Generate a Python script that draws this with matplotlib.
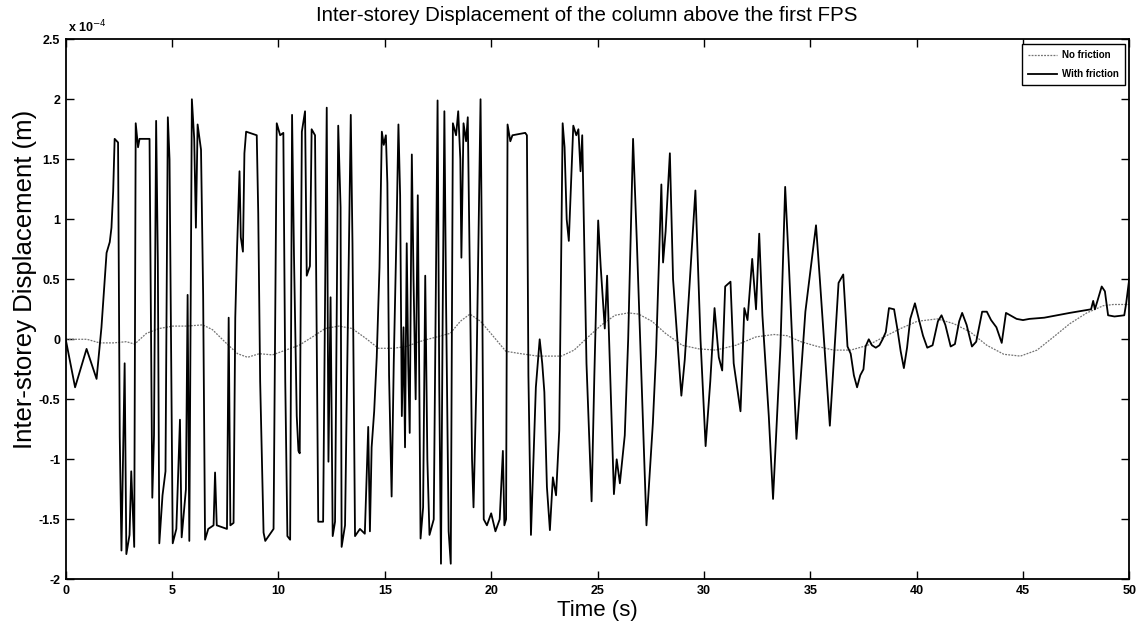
import matplotlib
matplotlib.use('Agg')
import matplotlib.pyplot as plt
import numpy as np
from matplotlib.ticker import FuncFormatter

# --------------------------------------------------------------
# Data (values in units of 1e-4 m)
# --------------------------------------------------------------
t_fric = [0.00, 0.44, 0.98, 1.45, 1.68, 1.92, 2.07, 2.15, 2.23, 2.30, 2.46, 2.54, 2.62, 2.77, 2.85,
          3.00, 3.08, 3.22, 3.29, 3.40, 3.47, 3.94, 4.07, 4.15, 4.25, 4.33, 4.40, 4.55, 4.69, 4.80,
          4.88, 5.03, 5.20, 5.37, 5.45, 5.65, 5.73, 5.81, 5.93, 6.04, 6.12, 6.20, 6.36, 6.46, 6.55,
          6.70, 6.95, 7.02, 7.10, 7.58, 7.66, 7.74, 7.89, 7.97, 8.05, 8.17, 8.23, 8.33, 8.40, 8.48,
          8.98, 9.05, 9.14, 9.30, 9.38, 9.77, 9.92, 10.08, 10.23, 10.32, 10.42, 10.55, 10.64, 10.73,
          10.86, 10.94, 11.00, 11.10, 11.25, 11.33, 11.48, 11.56, 11.72, 11.87, 12.10, 12.27, 12.35,
          12.45, 12.55, 12.66, 12.81, 12.92, 12.97, 13.13, 13.40, 13.48, 13.60, 13.83, 14.06, 14.22,
          14.30, 14.38, 14.50, 14.62, 14.75, 14.86, 14.95, 15.05, 15.12, 15.20, 15.32, 15.42, 15.55,
          15.64, 15.72, 15.80, 15.88, 15.95, 16.03, 16.10, 16.17, 16.27, 16.35, 16.45, 16.55, 16.68,
          16.80, 16.90, 17.00, 17.10, 17.30, 17.48, 17.56, 17.64, 17.72, 17.80, 17.88, 18.00, 18.10,
          18.20, 18.35, 18.45, 18.55, 18.60, 18.70, 18.82, 18.90, 19.00, 19.10, 19.17, 19.30, 19.50,
          19.58, 19.65, 19.80, 20.00, 20.20, 20.40, 20.55, 20.62, 20.70, 20.77, 20.90, 21.00, 21.60,
          21.68, 21.75, 21.87, 21.95, 22.10, 22.28, 22.40, 22.50, 22.62, 22.76, 22.90, 23.05, 23.20,
          23.36, 23.45, 23.55, 23.65, 23.86, 24.00, 24.10, 24.20, 24.28, 24.48, 24.72, 24.85, 25.03,
          25.15, 25.34, 25.45, 25.77, 25.90, 26.05, 26.28, 26.44, 26.67, 26.85, 27.30, 27.60, 27.75,
          28.00, 28.08, 28.20, 28.40, 28.55, 28.94, 29.10, 29.30, 29.60, 29.84, 30.08, 30.30, 30.50,
          30.70, 30.86, 31.00, 31.25, 31.40, 31.72, 31.90, 32.05, 32.27, 32.45, 32.60, 32.75, 33.05,
          33.25, 33.60, 33.82, 34.00, 34.35, 34.77, 35.27, 35.45, 35.92, 36.33, 36.55, 36.75, 36.90,
          37.05, 37.20, 37.35, 37.50, 37.60, 37.75, 37.90, 38.08, 38.25, 38.40, 38.55, 38.70, 38.94,
          39.10, 39.25, 39.40, 39.55, 39.70, 39.92, 40.10, 40.30, 40.50, 40.75, 41.00, 41.17, 41.35,
          41.60, 41.80, 42.00, 42.14, 42.35, 42.60, 42.80, 43.08, 43.30, 43.50, 43.75, 44.00, 44.20,
          44.40, 44.70, 45.00, 45.30, 46.00, 47.20, 48.20, 48.30, 48.38, 48.50, 48.70, 48.85, 49.00,
          49.30, 49.76, 49.85, 50.00]
y_fric = [0.00, -0.40, -0.08, -0.33, 0.10, 0.72, 0.81, 0.93, 1.23, 1.67, 1.64, -0.81, -1.76, -0.20, -1.79,
          -1.63, -1.10, -1.73, 1.80, 1.60, 1.67, 1.67, -1.32, -0.80, 1.82, 0.65, -1.70, -1.30, -1.10, 1.85,
          1.50, -1.70, -1.58, -0.67, -1.65, -1.25, 0.37, -1.68, 2.00, 1.67, 0.93, 1.79, 1.58, 0.37, -1.67,
          -1.58, -1.55, -1.11, -1.55, -1.58, 0.18, -1.55, -1.53, 0.18, 0.73, 1.40, 0.85, 0.73, 1.55, 1.73,
          1.70, 1.05, -0.35, -1.61, -1.68, -1.58, 1.80, 1.70, 1.72, -0.35, -1.64, -1.67, 1.87, 0.70,
          -0.64, -0.93, -0.95, 1.73, 1.90, 0.53, 0.61, 1.75, 1.70, -1.52, -1.52, 1.93, -1.02,
          0.35, -1.64, -1.52, 1.78, 1.10, -1.73, -1.55, 1.87, 0.80, -1.64, -1.58, -1.62, -0.73,
          -1.60, -0.90, -0.60, -0.15, 0.60, 1.73, 1.62, 1.70, 1.30, -0.30, -1.31, -0.20, 0.90,
          1.79, 1.20, -0.64, 0.10, -0.90, 0.80, -0.20, -0.78, 1.54, 0.50, -0.50, 1.20, -1.66,
          -1.40, 0.53, -1.00, -1.63, -1.50, 1.99, -0.40, -1.87, 0.20, 1.90, 0.30, -1.60, -1.87,
          1.80, 1.70, 1.90, 1.50, 0.68, 1.80, 1.65, 1.85, 0.50, -1.00, -1.40, -0.40, 2.00,
          0.40, -1.50, -1.55, -1.45, -1.60, -1.50, -0.93, -1.55, -1.50, 1.79, 1.65, 1.70, 1.72,
          1.70, -0.30, -1.63, -1.20, -0.40, 0.00, -0.20, -0.44, -1.23, -1.59, -1.15, -1.30, -0.76,
          1.80, 1.60, 1.00, 0.82, 1.78, 1.70, 1.75, 1.40, 1.70, -0.20, -1.35, -0.30, 0.99,
          0.60, 0.09, 0.53, -1.29, -1.00, -1.20, -0.80, 0.00, 1.67, 0.80, -1.55, -0.70, -0.12,
          1.29, 0.64, 0.90, 1.55, 0.50, -0.47, -0.17, 0.38, 1.24, 0.00, -0.89, -0.35, 0.26,
          -0.15, -0.26, 0.44, 0.48, -0.20, -0.60, 0.26, 0.16, 0.67, 0.25, 0.88, 0.20, -0.64,
          -1.33, -0.05, 1.27, 0.60, -0.83, 0.23, 0.95, 0.50, -0.72, 0.47, 0.54, -0.06, -0.12,
          -0.30, -0.40, -0.30, -0.25, -0.06, 0.00, -0.05, -0.07, -0.05, 0.00, 0.06, 0.26, 0.25,
          0.08, -0.10, -0.24, -0.07, 0.17, 0.30, 0.17, 0.03, -0.07, -0.05, 0.15, 0.20, 0.12,
          -0.06, -0.04, 0.15, 0.22, 0.12, -0.06, -0.02, 0.23, 0.23, 0.16, 0.10, -0.03, 0.22,
          0.20, 0.17, 0.16, 0.17, 0.18, 0.22, 0.25, 0.32, 0.25, 0.32, 0.44, 0.40, 0.20,
          0.19, 0.20, 0.30, 0.51]

t_nofric = [0.0, 1.0, 1.6, 2.23, 2.85, 3.24, 3.8, 4.4, 5.04, 5.66, 6.44, 6.9, 7.53, 8.08, 8.55, 9.1,
            9.72, 10.34, 10.97, 11.6, 12.2, 12.84, 13.46, 14.09, 14.7, 15.4, 16.0, 16.8, 17.45, 18.08,
            18.55, 19.0, 19.5, 19.98, 20.69, 21.4, 22.19, 23.3, 23.9, 24.56, 25.19, 25.82, 26.45, 26.93,
            27.56, 28.19, 28.98, 29.77, 30.56, 31.5, 32.45, 33.3, 33.9, 34.56, 35.34, 36.1, 36.9, 37.7,
            38.47, 39.25, 40.03, 40.97, 41.75, 42.53, 43.3, 44.1, 44.88, 45.66, 46.44, 47.2, 48.0,
            48.78, 49.25, 50.0]
y_nofric = [0.0, 0.0, -0.03, -0.03, -0.02, -0.04, 0.05, 0.09, 0.11, 0.11, 0.12, 0.08, -0.03, -0.12, -0.15,
            -0.12, -0.13, -0.09, -0.05, 0.02, 0.09, 0.11, 0.09, 0.01, -0.075, -0.075, -0.06, -0.01, 0.02,
            0.05, 0.15, 0.21, 0.15, 0.05, -0.10, -0.12, -0.14, -0.14, -0.09, 0.02, 0.12, 0.20, 0.22,
            0.21, 0.15, 0.05, -0.05, -0.08, -0.09, -0.05, 0.02, 0.04, 0.03, -0.02, -0.06, -0.09,
            -0.09, -0.05, 0.02, 0.09, 0.15, 0.17, 0.13, 0.06, -0.05, -0.125, -0.14, -0.09, 0.02,
            0.13, 0.22, 0.28, 0.29, 0.29]

x_ticks = np.arange(0, 51, 5)
y_ticks = np.arange(-2.0, 2.51, 0.5)

SCALE = 1e-4

plt.rcParams['font.family'] = ['Liberation Sans', 'DejaVu Sans']

fig = plt.figure(figsize=(11.41, 6.28), dpi=100)
ax = fig.add_axes([0.0576, 0.0775, 0.9322, 0.86])

ax.plot(t_nofric, np.array(y_nofric) * SCALE, color='0.45', lw=0.9,
        linestyle=(0, (1.5, 1.0)), label='No friction')
ax.plot(t_fric, np.array(y_fric) * SCALE, color='black', lw=1.3, label='With friction')

ax.set_xlim(0, 50)
ax.set_ylim(-2.0 * SCALE, 2.5 * SCALE)
ax.set_xticks(x_ticks)
ax.set_yticks(y_ticks * SCALE)
ax.yaxis.set_major_formatter(FuncFormatter(lambda v, p: f'{v / SCALE:g}'))
ax.xaxis.set_major_formatter(FuncFormatter(lambda v, p: f'{v:g}'))
ax.tick_params(direction='in', length=6, width=1.0, top=True, right=True,
               labelsize=9, pad=4)
for lab in ax.get_xticklabels() + ax.get_yticklabels():
    lab.set_fontweight('bold')
for s in ax.spines.values():
    s.set_linewidth(1.3)

ax.text(0.002, 1.008, r'x 10$^{-4}$', transform=ax.transAxes, fontsize=9,
        fontweight='bold', ha='left', va='bottom')

ax.set_title('Inter-storey Displacement of the column above the first FPS',
             fontsize=14.8, pad=13, x=0.49)
ax.set_xlabel('Time (s)', fontsize=16, labelpad=2)
ax.set_ylabel('Inter-storey Displacement (m)', fontsize=18.5)
ax.yaxis.set_label_coords(-0.027, 0.555)

leg = ax.legend(loc='upper right', fontsize=7, handlelength=3.0, frameon=True,
                fancybox=False, edgecolor='black', borderaxespad=0.5,
                framealpha=1, labelspacing=0.95, borderpad=0.6, handletextpad=0.5)
leg.get_frame().set_linewidth(1.0)
for txt in leg.get_texts():
    txt.set_fontweight('bold')

fig.savefig('out.png', dpi=100)
